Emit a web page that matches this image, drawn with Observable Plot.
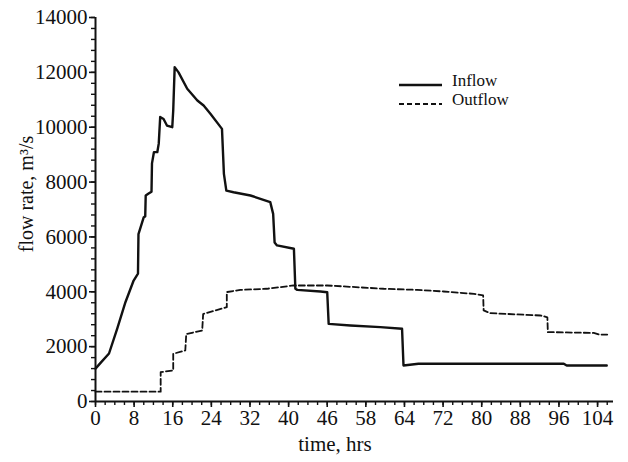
<!DOCTYPE html>
<html>
<head>
<meta charset="utf-8">
<script src="https://cdn.jsdelivr.net/npm/d3@7"></script>
<script src="https://cdn.jsdelivr.net/npm/@observablehq/plot@0.6"></script>
<style>
  html, body { margin: 0; padding: 0; background: #fff; }
  #chart { width: 628px; height: 462px; }
  #chart svg, #chart svg text { font-family: "Liberation Serif", "DejaVu Serif", serif !important; }
</style>
</head>
<body>
<div id="chart"></div>
<script>
// Inflow hydrograph (time in hours, flow in m3/s)
const inflowTime = [0, 1.0, 2.8, 4.5, 6.2, 7.9, 8.8, 8.9, 10.0, 10.3, 10.4, 11.0, 11.6, 11.7, 12.1, 12.8, 13.1, 13.4, 14.1, 14.8, 15.9, 16.1, 16.4, 17.2, 19.0, 21.1, 22.4, 23.8, 26.2, 26.6, 27.1, 28.6, 32.1, 36.2, 36.8, 37.1, 37.6, 41.1, 41.4, 41.8, 46.6, 48.0, 48.3, 52.8, 59.0, 63.5, 63.8, 66.9, 97.0, 97.6, 105.9];
const inflowRate = [1200, 1400, 1750, 2660, 3620, 4410, 4660, 6100, 6720, 6750, 7510, 7580, 7650, 8680, 9090, 9090, 9400, 10370, 10300, 10060, 10000, 10610, 12190, 12000, 11400, 10975, 10790, 10490, 9940, 8300, 7690, 7630, 7510, 7270, 6840, 5800, 5690, 5570, 4110, 4070, 4010, 3985, 2830, 2770, 2710, 2650, 1313, 1375, 1375, 1313, 1313];

// Outflow hydrograph
const outflowTime = [0, 13.5, 13.5, 16.1, 16.1, 18.6, 18.8, 22.1, 22.3, 27.2, 27.2, 30.0, 35.5, 41.0, 46.6, 48.0, 59.7, 66.6, 72.1, 78.4, 80.3, 80.4, 81.8, 92.2, 93.6, 93.7, 103.2, 104.3, 106.0];
const outflowRate = [360, 360, 1070, 1130, 1740, 1860, 2460, 2590, 3190, 3440, 3990, 4070, 4110, 4230, 4230, 4230, 4110, 4070, 4010, 3925, 3865, 3320, 3220, 3135, 3070, 2530, 2500, 2440, 2440];

// Axis ticks (labels exactly as printed on the original)
const xTickValues = [0, 8, 16, 24, 32, 40, 48, 56, 64, 72, 80, 88, 96, 104];
const xTickLabels = ["0", "8", "16", "24", "32", "40", "46", "58", "64", "72", "80", "88", "96", "104"];
const yTickValues = [0, 2000, 4000, 6000, 8000, 10000, 12000, 14000];

const seriesNames = ["Inflow", "Outflow"];

const inflow = inflowTime.map((t, i) => ({t, q: inflowRate[i]}));
const outflow = outflowTime.map((t, i) => ({t, q: outflowRate[i]}));
const xLabelMap = new Map(xTickValues.map((v, i) => [v, xTickLabels[i]]));

const font = "'Liberation Serif', 'DejaVu Serif', serif";

const plot = Plot.plot({
  width: 628,
  height: 462,
  marginLeft: 95,
  marginRight: 15,
  marginTop: 17,
  marginBottom: 61,
  style: {fontFamily: font, fontSize: "21px", color: "#111", background: "#fff", overflow: "visible"},
  x: {domain: [0, 107.3], label: null},
  y: {domain: [0, 14000], label: null},
  marks: [
    Plot.axisY({ticks: d3.range(0, 14001, 400), tickSize: 4, tickFormat: () => "", strokeWidth: 1.4, label: null}),
    Plot.axisY({ticks: yTickValues, tickSize: 6, tickPadding: 2, strokeWidth: 1.6, fontSize: 21, tickFormat: d => String(d), label: null}),
    Plot.axisX({ticks: d3.range(0, 107, 2), tickSize: 4, tickFormat: () => "", strokeWidth: 1.4, label: null}),
    Plot.axisX({ticks: xTickValues, tickSize: 6, tickPadding: 3, strokeWidth: 1.6, fontSize: 21, tickFormat: d => xLabelMap.get(d), label: null}),
    Plot.ruleX([0], {stroke: "#111", strokeWidth: 2}),
    Plot.ruleY([0], {stroke: "#111", strokeWidth: 2}),
    Plot.line(outflow, {x: "t", y: "q", stroke: "#111", strokeWidth: 1.8, strokeDasharray: "6,3"}),
    Plot.line(inflow, {x: "t", y: "q", stroke: "#111", strokeWidth: 2.4})
  ]
});

document.getElementById("chart").appendChild(plot);

// Axis titles and legend
const svg = d3.select(plot);
svg.append("text")
  .attr("transform", "translate(33,194) rotate(-90)")
  .attr("text-anchor", "middle")
  .attr("font-size", 20)
  .attr("fill", "#111")
  .text("flow rate, m³/s");
svg.append("text")
  .attr("x", 335).attr("y", 451)
  .attr("text-anchor", "middle")
  .attr("font-size", 21)
  .attr("fill", "#111")
  .text("time, hrs");

const legend = svg.append("g").attr("font-size", 17).attr("fill", "#111").attr("text-anchor", "start");
[{name: seriesNames[0], y: 85, dash: null, w: 2.4}, {name: seriesNames[1], y: 104, dash: "5,3", w: 1.8}].forEach(s => {
  legend.append("line")
    .attr("x1", 399).attr("x2", 442).attr("y1", s.y).attr("y2", s.y)
    .attr("stroke", "#111").attr("stroke-width", s.w)
    .attr("stroke-dasharray", s.dash);
  legend.append("text").attr("x", 452).attr("y", s.y + 1).attr("text-anchor", "start").text(s.name);
});
</script>
</body>
</html>
